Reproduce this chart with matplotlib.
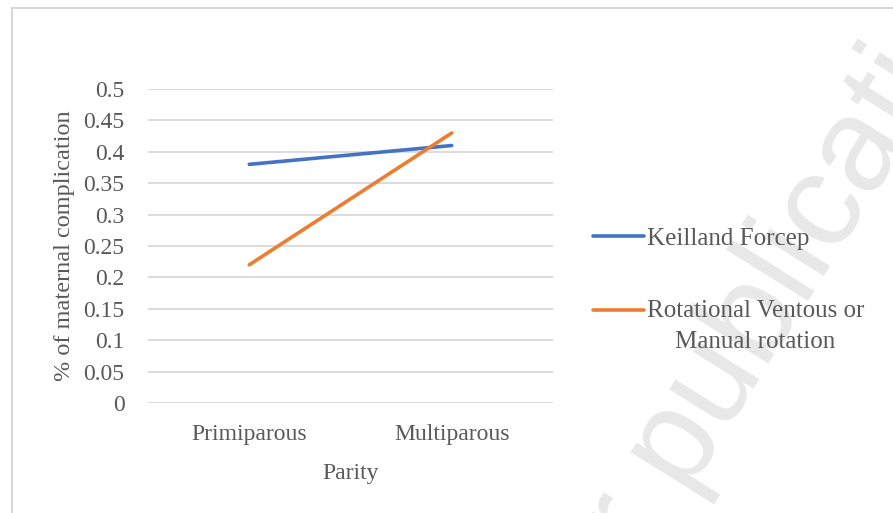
import matplotlib
matplotlib.use("Agg")
import matplotlib.pyplot as plt
from matplotlib.patches import Rectangle
from matplotlib.legend_handler import HandlerLine2D

categories = ["Primiparous", "Multiparous"]
keilland = [0.38, 0.41]
rotational = [0.22, 0.43]
yticks = [0, 0.05, 0.1, 0.15, 0.2, 0.25, 0.3, 0.35, 0.4, 0.45, 0.5]
ytick_labels = ["0", "0.05", "0.1", "0.15", "0.2", "0.25", "0.3", "0.35", "0.4", "0.45", "0.5"]

plt.rcParams["font.family"] = ["Liberation Serif", "DejaVu Serif"]
text_color = "#595959"
fs = 17

W, H = 893, 513
fig = plt.figure(figsize=(W / 100, H / 100), dpi=100)

# outer chart border (bottom/right run off the picture)
fig.patches.append(Rectangle((12 / W, -0.05), 1.0, 1 - 8 / H + 0.05, transform=fig.transFigure,
                             fill=False, edgecolor="#d0d0d0", linewidth=1.2))

# watermark
fig.text(775 / W, 1 - 290 / H, "for publication", transform=fig.transFigure, fontsize=96,
         family=["Liberation Sans", "DejaVu Sans"], color="#e8e8e8", rotation=58,
         rotation_mode="anchor", ha="center", va="center", zorder=0)

ax = fig.add_axes([148 / W, 1 - 403 / H, (553 - 148) / W, (403 - 89) / H])
ax.set_facecolor("none")
x = range(len(categories))
ax.plot(x, keilland, color="#4472C4", linewidth=2.6, label="Keilland Forcep", solid_capstyle="round")
ax.plot(x, rotational, color="#ED7D31", linewidth=2.6, label="Rotational Ventous or\nManual rotation",
        solid_capstyle="round")

ax.set_xlim(-0.5, 1.5)
ax.set_ylim(0, 0.5)
ax.set_yticks(yticks)
ax.set_yticklabels(ytick_labels)
ax.set_xticks(list(x))
ax.set_xticklabels(categories)
ax.tick_params(length=0, labelsize=fs, colors=text_color)
ax.tick_params(axis="y", pad=17)
ax.tick_params(axis="x", pad=15)
ax.grid(axis="y", color="#d9d9d9", linewidth=1.3)
ax.set_axisbelow(True)
for s in ax.spines.values():
    s.set_visible(False)

ax.set_xlabel("Parity", fontsize=fs, color=text_color, labelpad=13)
ax.set_ylabel("% of maternal complication", fontsize=17.5, color=text_color, labelpad=6)


class FirstLineHandler(HandlerLine2D):
    # put the legend line level with the first line of a two-line label
    def create_artists(self, legend, orig_handle, xdescent, ydescent, width, height, fontsize, trans):
        arts = super().create_artists(legend, orig_handle, xdescent, ydescent, width, height, fontsize, trans)
        for a in arts:
            a.set_ydata([y + 0.66 * fontsize for y in a.get_ydata()])
        return arts


lines = ax.get_lines()
leg = fig.legend(handles=lines, loc="center left", bbox_to_anchor=(570 / W, 1 - 290 / H), frameon=False,
                 fontsize=18, handlelength=2.05, handletextpad=0.12, labelspacing=2.0,
                 handler_map={lines[1]: FirstLineHandler()})
for t in leg.get_texts():
    t.set_color(text_color)
    t.set_multialignment("center")
    t.set_linespacing(1.5)

fig.savefig("out.png", dpi=100)
